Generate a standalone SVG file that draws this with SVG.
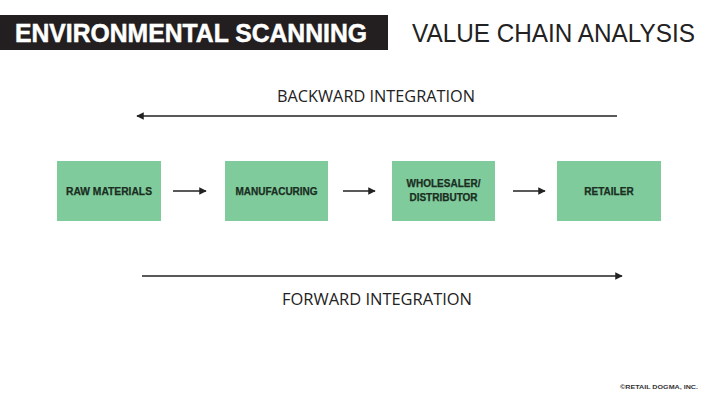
<svg xmlns="http://www.w3.org/2000/svg" width="720" height="404" viewBox="0 0 720 404">
<style>
.box{fill:#80cb9c}
.bl{font-family:"Liberation Sans",Arial,sans-serif;font-weight:bold;font-size:10px;fill:#1a2e22;text-anchor:middle;stroke:#1a2e22;stroke-width:0.25}
.int{font-family:"Open Sans","Liberation Sans",sans-serif;font-size:15.5px;fill:#222;text-anchor:middle}
.con{stroke:#222;stroke-width:1.5;fill:none}
</style>
<defs>
<marker id="ah" viewBox="0 0 10 10" refX="9" refY="5" markerWidth="5" markerHeight="5" orient="auto-start-reverse">
<path d="M0,0 L10,5 L0,10 z" fill="#222"/>
</marker>
</defs>
<rect width="720" height="404" fill="#fff"/>
<g id="header">
<rect x="0" y="15" width="388" height="35" fill="#231f20"/>
<text x="15" y="42" font-family="Liberation Sans,Arial,sans-serif" font-weight="bold" font-size="25" fill="#fff" stroke="#fff" stroke-width="0.5" textLength="352" lengthAdjust="spacingAndGlyphs">ENVIRONMENTAL SCANNING</text>
<text x="412" y="42" font-family="Liberation Sans,Arial,sans-serif" font-size="25" fill="#222" textLength="283" lengthAdjust="spacingAndGlyphs">VALUE CHAIN ANALYSIS</text>
</g>
<g id="raw-materials">
<rect class="box" x="57" y="161" width="104" height="60"/>
<text class="bl" x="109" y="194.5" textLength="86" lengthAdjust="spacingAndGlyphs">RAW MATERIALS</text>
</g>
<g id="manufacturing">
<rect class="box" x="225" y="161" width="103" height="60"/>
<text class="bl" x="276.5" y="194.5">MANUFACURING</text>
</g>
<g id="wholesaler">
<rect class="box" x="392" y="161" width="103" height="60"/>
<text class="bl" x="443.5" y="187">WHOLESALER/</text>
<text class="bl" x="443.5" y="201">DISTRIBUTOR</text>
</g>
<g id="retailer">
<rect class="box" x="557" y="161" width="104" height="60"/>
<text class="bl" x="609" y="194.5">RETAILER</text>
</g>
<g id="connectors">
<line class="con" x1="173" y1="191" x2="206" y2="191" marker-end="url(#ah)"/>
<line class="con" x1="343" y1="191" x2="375" y2="191" marker-end="url(#ah)"/>
<line class="con" x1="513" y1="191" x2="545" y2="191" marker-end="url(#ah)"/>
<line class="con" x1="617" y1="116" x2="137" y2="116" marker-end="url(#ah)"/>
<line class="con" x1="142" y1="276" x2="622" y2="276" marker-end="url(#ah)"/>
</g>
<g id="labels">
<text class="int" x="376" y="102" textLength="198" lengthAdjust="spacingAndGlyphs">BACKWARD INTEGRATION</text>
<text class="int" x="377" y="305" textLength="190" lengthAdjust="spacingAndGlyphs">FORWARD INTEGRATION</text>
</g>
<text x="620" y="389" font-family="Liberation Sans,Arial,sans-serif" font-weight="bold" font-size="6" fill="#333" textLength="78" lengthAdjust="spacingAndGlyphs">©RETAIL DOGMA, INC.</text>
</svg>
